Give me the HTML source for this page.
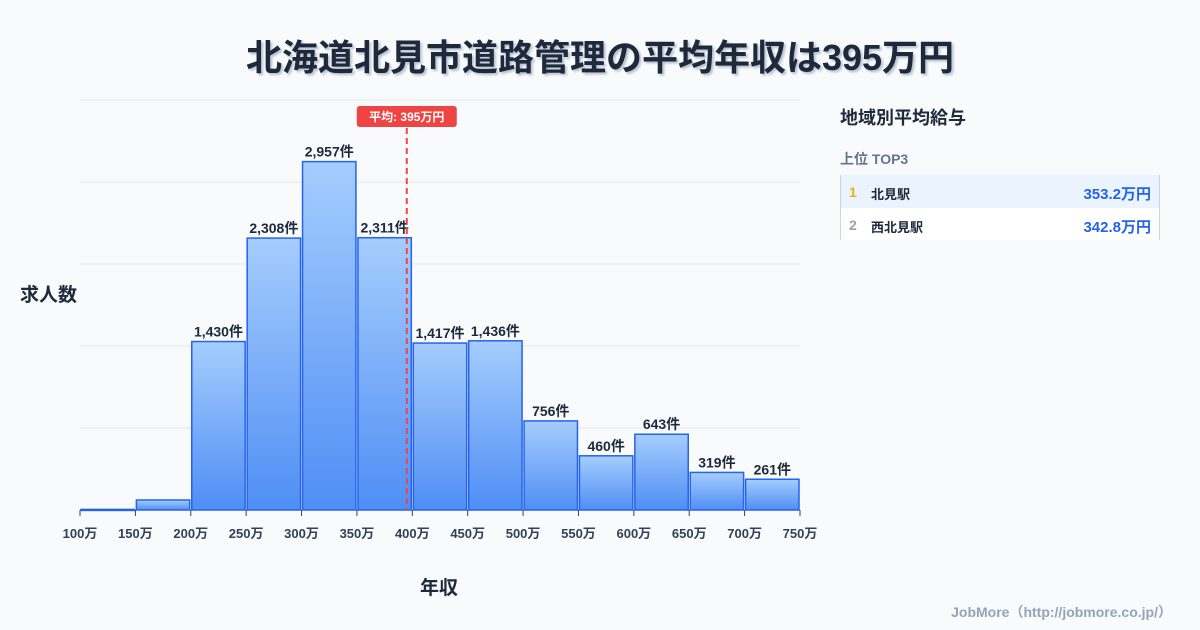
<!DOCTYPE html>
<html><head><meta charset="utf-8"><style>
body{margin:0;width:1200px;height:630px;background:#f8fafc;font-family:"Liberation Sans","Noto Sans CJK JP",sans-serif;position:relative;overflow:hidden}
.abs{position:absolute}
</style></head><body>
<div class="abs" style="left:0;width:1200px;top:29px;text-align:center;font-size:36px;font-weight:bold;color:#1e293b;text-shadow:2px 2px 2px #b8c2d0">北海道北見市道路管理の平均年収は395万円</div>
<svg class="abs" style="left:0;top:0" width="1200" height="630" id="chart">
<defs><linearGradient id="g" x1="0" y1="0" x2="0" y2="1"><stop offset="0" stop-color="#a5cdfd"/><stop offset="1" stop-color="#4f8ef5"/></linearGradient></defs>
</svg>
<div class="abs" style="left:20px;top:280px;font-size:19px;font-weight:bold;color:#1e293b">求人数</div>
<div class="abs" style="left:420px;top:573px;font-size:19px;font-weight:bold;color:#1e293b">年収</div>
<div class="abs" style="left:840px;top:104px;font-size:18px;font-weight:bold;color:#1e293b">地域別平均給与</div>
<div class="abs" style="left:840px;top:149px;font-size:14px;font-weight:bold;color:#64748b">上位 TOP3</div>
<div class="abs" style="left:840px;top:175px;width:320px;height:65px;border-left:1px solid #cbd5e1;border-right:1px solid #cbd5e1;box-sizing:border-box">
<div style="height:33px;background:#eaf3fe;position:relative;font-size:14px;font-weight:bold">
<span style="position:absolute;left:8px;top:9px;color:#eab308">1</span><span style="position:absolute;left:30px;top:9px;color:#1e293b;font-size:13px">北見駅</span><span style="position:absolute;right:8px;top:8px;color:#2563eb;font-size:15px">353.2万円</span></div>
<div style="height:32px;background:#fff;position:relative;font-size:14px;font-weight:bold">
<span style="position:absolute;left:8px;top:9px;color:#94a3b8">2</span><span style="position:absolute;left:30px;top:9px;color:#1e293b;font-size:13px">西北見駅</span><span style="position:absolute;right:8px;top:8px;color:#2563eb;font-size:15px">342.8万円</span></div>
</div>
<div class="abs" style="right:28px;top:602px;font-size:14px;font-weight:bold;color:#94a3b8">JobMore（http://jobmore.co.jp/）</div>
<script>
const bins=[100,150,200,250,300,350,400,450,500,550,600,650,700];
const counts=[5,85,1430,2308,2957,2311,1417,1436,756,460,643,319,261];
const labels=["","","1,430件","2,308件","2,957件","2,311件","1,417件","1,436件","756件","460件","643件","319件","261件"];
const ticks=[100,150,200,250,300,350,400,450,500,550,600,650,700,750];
const avg=395;
const X0=80,X1=800,Y0=510,YT=100,YMAX=3480;
const x=v=>X0+(v-100)/650*(X1-X0);
const y=v=>Y0-v/YMAX*(Y0-YT);
const s=document.getElementById('chart');const NS='http://www.w3.org/2000/svg';
function mk(t,a){const e=document.createElementNS(NS,t);for(const k in a)e.setAttribute(k,a[k]);s.appendChild(e);return e;}
for(let i=0;i<=5;i++){const g=mk('line',{x1:X0,x2:X1,y1:Y0-i*(Y0-YT)/5,y2:Y0-i*(Y0-YT)/5,stroke:'#e2e8f0'});

}
bins.forEach((b,i)=>{const x0=x(b)+1,x1=x(b+50)-1,yt=y(counts[i]);
const r=mk('rect',{x:x0,y:yt,width:x1-x0,height:Math.max(Y0-yt,1),fill:'url(#g)',stroke:'#2563eb','stroke-width':1.5});


if(labels[i]){const t=mk('text',{x:(x0+x1)/2,y:yt-5,'text-anchor':'middle','font-size':14,'font-weight':'bold',fill:'#1e293b'});t.textContent=labels[i];

}});
ticks.forEach(v=>{mk('line',{x1:x(v),x2:x(v),y1:Y0,y2:Y0+6,stroke:'#334155'});
const t=mk('text',{x:x(v),y:Y0+28,'text-anchor':'middle','font-size':13,'font-weight':'bold',fill:'#334155'});t.textContent=v+'万';

});
const ax=x(avg);
const l=mk('line',{x1:ax,x2:ax,y1:128,y2:Y0,stroke:'#ef4444','stroke-width':2,'stroke-dasharray':'6,4'});


const bg=mk('rect',{x:ax-50,y:106,width:100,height:21,rx:3,fill:'#ef4444'});


const at=mk('text',{x:ax,y:121,'text-anchor':'middle','font-size':12,'font-weight':'bold',fill:'#fff'});at.textContent='平均: '+avg+'万円';


</script>
</body></html>
